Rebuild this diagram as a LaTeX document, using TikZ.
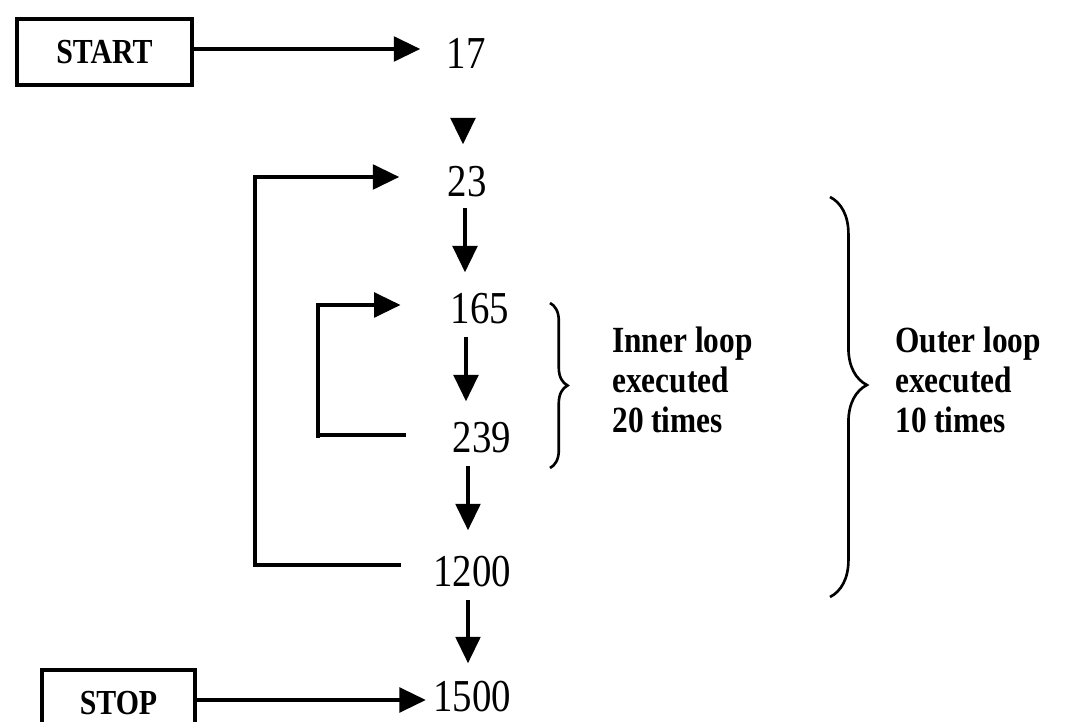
\documentclass[tikz,border=0pt]{standalone}
\usepackage{fontspec}
\setmainfont[FakeStretch=0.85]{Liberation Serif}
\usetikzlibrary{arrows.meta,calc,decorations.pathreplacing}
\begin{document}
\begin{tikzpicture}[x=0.02cm,y=-0.02cm,
  conn/.style={line width=2pt},
  arr/.style={conn,-{Triangle[length=15pt,width=14pt]}},
  num/.style={inner sep=0pt,font=\fontsize{26}{28}\selectfont},
  term/.style={draw,line width=2pt,inner sep=0pt,font=\bfseries\fontsize{20}{22}\selectfont},
  lab/.style={align=left,anchor=west,inner sep=0pt,font=\bfseries\fontsize{21}{22.7}\selectfont},
  bracedec/.style={decorate,line width=1.5pt,decoration={brace,amplitude=#1}}]
\clip (0,0) rectangle (1066,722);
\fill[white] (0,0) rectangle (1066,722);

% terminals
\node[term,minimum width=3.5cm,minimum height=1.32cm] (start) at (104.5,52) {START};
\node[term,minimum width=3.06cm,minimum height=1.32cm] (stop) at (118.5,703) {STOP};

% statement numbers
\node[num] (n17) at (466,53) {17};
\node[num] (n23) at (467,182) {23};
\node[num] (n165) at (480,309) {165};
\node[num] (n239) at (482,438) {239};
\node[num] (n1200) at (472,572) {1200};
\node[num] (n1500) at (472,697) {1500};

% horizontal arrows from terminals
\draw[arr] (start.east |- 0,49) -- ($(n17.west |- 0,49)+(-26,0)$);
\draw[arr] (stop.east |- 0,700) -- ($(n1500.west |- 0,700)+(-7,0)$);

% vertical flow
\draw[arr] ($(n17.south)+(-3,50)$) -- ($(n17.south |- n23.north)+(-3,-22)$);
\draw[arr] ($(n23.south)+(-2,10)$) -- ($(n23.south |- n165.north)+(-2,-21)$);
\draw[arr] ($(n165.south)+(-14,12)$) -- ($(n165.south |- n239.north)+(-14,-21)$);
\draw[arr] ($(n239.south)+(-14,12)$) -- ($(n239.south |- n1200.north)+(-14,-26)$);
\draw[arr] ($(n1200.south)+(-4,12)$) -- ($(n1200.south |- n1500.north)+(-4,-18)$);

% inner loop
\coordinate (il) at (318,0);
\draw[arr] ($(n239.west)+(-47,-3)$) -| (il |- n239.west) -- (il |- 0,305) -- ($(n165.west |- 0,305)+(-50,0)$);

% outer loop
\coordinate (ol) at (255,0);
\draw[arr] ($(n1200.west |- 0,565)+(-32,0)$) -- (ol |- 0,565) -- (ol |- 0,177) -- ($(n23.west |- 0,177)+(-48,0)$);

% braces
\draw[bracedec=10pt] (550,303) -- (550,468);
\draw[bracedec=21pt,decoration={aspect=0.47}] (830,197) -- (830,597);

% labels
\node[lab] (inner) at (612,380) {Inner loop\\executed\\20 times};
\node[lab] (outer) at (895,380) {Outer loop\\executed\\10 times};
\end{tikzpicture}
\end{document}
